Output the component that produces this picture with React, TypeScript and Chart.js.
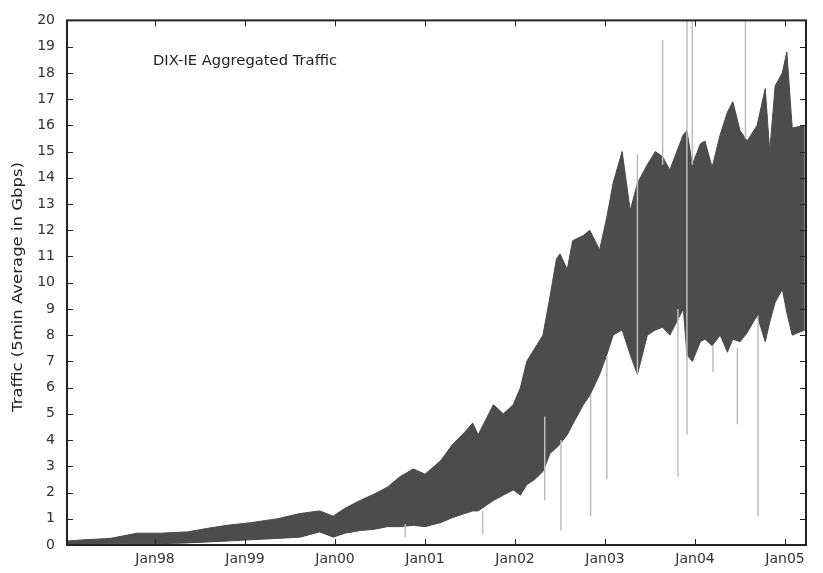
import React, { useEffect, useRef } from "react";
import { Chart, registerables } from "chart.js";

Chart.register(...registerables);

// Decimal-year positions of the envelope samples
const years = [1997.02, 1997.22, 1997.50, 1997.80, 1998.06, 1998.36, 1998.61, 1998.80, 1999.06, 1999.36,
  1999.61, 1999.83, 1999.98, 2000.11, 2000.28, 2000.44, 2000.58, 2000.72, 2000.87, 2001.00,
  2001.17, 2001.31, 2001.44, 2001.53, 2001.59, 2001.76, 2001.87, 2001.98, 2002.06, 2002.13,
  2002.22, 2002.31, 2002.39, 2002.46, 2002.50, 2002.58, 2002.64, 2002.76, 2002.83, 2002.94,
  2003.02, 2003.09, 2003.19, 2003.28, 2003.36, 2003.47, 2003.56, 2003.64, 2003.72, 2003.87,
  2003.91, 2003.97, 2004.06, 2004.11, 2004.19, 2004.28, 2004.36, 2004.42, 2004.50, 2004.58,
  2004.69, 2004.78, 2004.83, 2004.89, 2004.97, 2005.02, 2005.08, 2005.22];

// Upper envelope (peak 5-min averages, Gbps)
const upperGbps = [0.15, 0.2, 0.25, 0.45, 0.45, 0.5, 0.65, 0.75, 0.85, 1.0,
  1.2, 1.3, 1.1, 1.4, 1.7, 1.95, 2.2, 2.6, 2.9, 2.7,
  3.2, 3.85, 4.3, 4.65, 4.2, 5.35, 5.0, 5.35, 6.0, 7.0,
  7.5, 8.0, 9.5, 10.9, 11.1, 10.5, 11.6, 11.8, 12.0, 11.25,
  12.5, 13.8, 15.0, 12.75, 13.8, 14.5, 15.0, 14.8, 14.3, 15.65,
  15.8, 14.5, 15.3, 15.4, 14.4, 15.65, 16.5, 16.9, 15.8, 15.4,
  16.0, 17.4, 15.0, 17.5, 18.0, 18.8, 15.9, 16.0];

// Lower envelope (trough 5-min averages, Gbps)
const lowerGbps = [0.03, 0.04, 0.05, 0.05, 0.05, 0.08, 0.12, 0.15, 0.2, 0.25,
  0.3, 0.5, 0.3, 0.45, 0.55, 0.6, 0.7, 0.7, 0.75, 0.7,
  0.85, 1.05, 1.2, 1.3, 1.3, 1.7, 1.9, 2.1, 1.9, 2.3,
  2.5, 2.8, 3.5, 3.7, 3.85, 4.2, 4.6, 5.35, 5.7, 6.5,
  7.25, 8.0, 8.2, 7.25, 6.5, 8.0, 8.2, 8.3, 8.0, 9.0,
  7.25, 7.0, 7.75, 7.85, 7.6, 8.0, 7.35, 7.85, 7.75, 8.1,
  8.75, 7.75, 8.5, 9.25, 9.75, 8.85, 8.0, 8.2];

// Isolated outlier spikes
const spikeYears = [2000.78, 2001.64, 2002.33, 2002.51, 2002.84, 2003.02, 2003.36, 2003.64, 2003.81, 2003.91, 2003.97, 2004.20, 2004.47, 2004.56, 2004.70];
const spikeLow = [0.3, 0.4, 1.7, 0.55, 1.1, 2.5, 6.5, 14.5, 2.6, 4.2, 14.5, 6.6, 4.6, 15.5, 1.1];
const spikeHigh = [0.8, 1.3, 4.9, 4.0, 5.7, 7.2, 14.9, 19.25, 9.0, 20, 20, 7.6, 7.5, 20, 8.75];

const xTickYears = [1998, 1999, 2000, 2001, 2002, 2003, 2004, 2005];
const chartTitle = "DIX-IE Aggregated Traffic";
const yLabel = "Traffic (5min Average in Gbps)";

const FONT = "'DejaVu Sans', sans-serif";

export default function App() {
  const ref = useRef<HTMLCanvasElement | null>(null);

  useEffect(() => {
    const canvas = ref.current;
    if (!canvas) return;

    const spikePts: any[] = [];
    spikeYears.forEach((x, i) => {
      spikePts.push({ x, y: spikeLow[i] });
      spikePts.push({ x, y: spikeHigh[i] });
      spikePts.push({ x, y: null });
    });

    const framePlugin = {
      id: "frame",
      afterDraw(chart: any) {
        const { ctx, chartArea: a, scales } = chart;
        ctx.save();
        ctx.strokeStyle = "#222";
        ctx.lineWidth = 1;
        // inward ticks
        for (let v = 1; v < 20; v++) {
          const y = Math.round(scales.y.getPixelForValue(v)) + 0.5;
          ctx.beginPath();
          ctx.moveTo(a.left, y); ctx.lineTo(a.left + 6, y);
          ctx.moveTo(a.right, y); ctx.lineTo(a.right - 6, y);
          ctx.stroke();
        }
        xTickYears.forEach((v) => {
          const x = Math.round(scales.x.getPixelForValue(v)) + 0.5;
          ctx.beginPath();
          ctx.moveTo(x, a.bottom); ctx.lineTo(x, a.bottom - 6);
          ctx.moveTo(x, a.top); ctx.lineTo(x, a.top + 6);
          ctx.stroke();
        });
        ctx.lineWidth = 2;
        ctx.strokeStyle = "#222";
        ctx.strokeRect(a.left, a.top, a.right - a.left, a.bottom - a.top);

        // title inside the plot
        ctx.fillStyle = "#222";
        ctx.font = "14px " + FONT;
        ctx.textBaseline = "middle";
        ctx.textAlign = "left";
        const tw = ctx.measureText(chartTitle).width;
        ctx.save();
        ctx.translate(a.left + 86, a.top + 41);
        ctx.scale(184 / tw, 1);
        ctx.fillText(chartTitle, 0, 0);
        ctx.restore();

        // y axis label
        ctx.save();
        ctx.font = "14px " + FONT;
        const lw = ctx.measureText(yLabel).width;
        ctx.translate(18, 287);
        ctx.rotate(-Math.PI / 2);
        ctx.scale(250 / lw, 1);
        ctx.textAlign = "center";
        ctx.fillText(yLabel, 0, 0);
        ctx.restore();
        ctx.restore();
      },
    };

    const chart = new Chart(canvas, {
      type: "line",
      data: {
        datasets: [
          {
            label: "spikes",
            data: spikePts,
            borderColor: "#bdbdbd",
            borderWidth: 1.5,
            pointRadius: 0,
            spanGaps: false,
            fill: false,
          },
          {
            label: "upper",
            data: years.map((x, i) => ({ x, y: upperGbps[i] })),
            borderColor: "#4a4a4a",
            borderWidth: 1,
            pointRadius: 0,
            fill: false,
          },
          {
            label: "lower",
            data: years.map((x, i) => ({ x, y: lowerGbps[i] })),
            borderColor: "#4a4a4a",
            borderWidth: 1,
            pointRadius: 0,
            fill: "-1",
            backgroundColor: "#4c4c4c",
          },
        ],
      },
      options: {
        responsive: false,
        animation: false,
        devicePixelRatio: 1,
        layout: { padding: { left: 0, right: 17, top: 15, bottom: 0 } },
        plugins: { legend: { display: false }, tooltip: { enabled: false } },
        scales: {
          x: {
            type: "linear",
            min: 1997.022,
            max: 2005.233,
            offset: false,
            grid: { display: false, drawTicks: false },
            border: { display: false },
            afterBuildTicks: (s: any) => {
              s.ticks = xTickYears.map((v) => ({ value: v }));
            },
            afterFit: (s: any) => {
              s.height = 28;
            },
            ticks: {
              autoSkip: false,
              maxRotation: 0,
              padding: 6,
              color: "#333",
              font: { family: FONT, size: 14 },
              callback: (v: any) => "Jan" + String(v).slice(2),
            },
          },
          y: {
            min: 0,
            max: 20,
            grid: { display: false, drawTicks: false },
            border: { display: false },
            afterFit: (s: any) => {
              s.width = 67;
            },
            ticks: {
              stepSize: 1,
              padding: 12,
              color: "#333",
              font: { family: FONT, size: 14 },
            },
          },
        },
      },
      plugins: [framePlugin],
    } as any);

    return () => chart.destroy();
  }, []);

  return (
    <div style={{ position: "fixed", left: 0, top: 0, width: 823, height: 573, background: "#fff" }}>
      <canvas ref={ref} width={823} height={573} />
    </div>
  );
}
